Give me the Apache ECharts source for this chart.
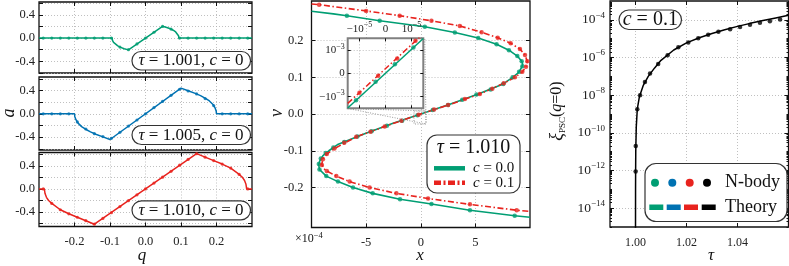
<!DOCTYPE html>
<html>
<head>
<meta charset="utf-8">
<script src="https://cdn.jsdelivr.net/npm/echarts@6/dist/echarts.min.js"></script>
<style>
html, body { margin: 0; padding: 0; background: #fff; }
#main { width: 789px; height: 266px; }
</style>
</head>
<body>
<div id="main"></div>
<script>
// ---------- left column: a(q) at three times ----------
const qDots = [-0.288, -0.264, -0.24, -0.216, -0.192, -0.168, -0.144, -0.12, -0.096, -0.072, -0.048, -0.024, 0,
  0.024, 0.048, 0.072, 0.096, 0.12, 0.144, 0.168, 0.192, 0.216, 0.24, 0.264, 0.288]
const aDots1001 = [0, 0, 0, 0, 0, 0, 0, 0, 0, -0.155, -0.2, -0.1, 0, 0.1, 0.2, 0.155, 0, 0, 0, 0, 0, 0, 0, 0, 0]
const aDots1005 = [0, 0, 0, 0, -0.14, -0.26, -0.34, -0.39, -0.42, -0.317, -0.211, -0.106, 0,
  0.106, 0.211, 0.317, 0.42, 0.39, 0.34, 0.26, 0.14, 0, 0, 0, 0]
const aDots1010 = [0, -0.25, -0.36, -0.43, -0.49, -0.55, -0.61, -0.51, -0.41, -0.305, -0.204, -0.102, 0,
  0.102, 0.204, 0.305, 0.41, 0.51, 0.61, 0.55, 0.49, 0.43, 0.36, 0.25, 0]

const qLine1001 = [-0.3, -0.094, -0.093, -0.09, -0.085, -0.078, -0.07, -0.06, -0.048,
  0.048, 0.06, 0.07, 0.078, 0.085, 0.09, 0.093, 0.094, 0.3]
const aLine1001 = [0, 0, -0.04, -0.075, -0.105, -0.135, -0.16, -0.183, -0.203,
  0.203, 0.183, 0.16, 0.135, 0.105, 0.075, 0.04, 0, 0]
const qLine1005 = [-0.3, -0.2, -0.199, -0.196, -0.19, -0.18, -0.17, -0.155, -0.14, -0.12, -0.1,
  0.1, 0.12, 0.14, 0.155, 0.17, 0.18, 0.19, 0.196, 0.199, 0.2, 0.3]
const aLine1005 = [0, 0, -0.05, -0.1, -0.16, -0.22, -0.26, -0.31, -0.35, -0.395, -0.44,
  0.44, 0.395, 0.35, 0.31, 0.26, 0.22, 0.16, 0.1, 0.05, 0, 0]
const qLine1010 = [-0.3, -0.285, -0.283, -0.279, -0.273, -0.264, -0.24, -0.216, -0.192, -0.168, -0.144,
  0.144, 0.168, 0.192, 0.216, 0.24, 0.264, 0.273, 0.279, 0.283, 0.285, 0.3]
const aLine1010 = [0, 0, -0.08, -0.145, -0.2, -0.25, -0.36, -0.43, -0.49, -0.55, -0.61,
  0.61, 0.55, 0.49, 0.43, 0.36, 0.25, 0.2, 0.145, 0.08, 0, 0]

// ---------- middle: phase space, x in units of 1e-4 ----------
const xLineC0 = [-10, -8, -6.76, -3.76, 0.37, 3.12, 5.26, 6.94, 8.07, 8.84, 9.24, 9.33, 9.25, 8.95, 8.41, 7.55, 5.2, 2.6, 0,
  -2.6, -5.2, -7.55, -8.41, -8.95, -9.25, -9.34, -9.27, -8.65, -7.58, -6.2, -4.4, -1.9, 0.98, 4.5, 8.6, 10]
const vLineC0 = [0.28, 0.273, 0.268, 0.254, 0.238, 0.222, 0.207, 0.19, 0.174, 0.158, 0.144, 0.136, 0.128, 0.113, 0.1, 0.082, 0.054, 0.026, 0,
  -0.026, -0.054, -0.082, -0.1, -0.113, -0.128, -0.138, -0.151, -0.169, -0.184, -0.2, -0.216, -0.232, -0.245, -0.262, -0.277, -0.281]
const xLineC01 = [-10, -9.3, -5, -1.93, 0.98, 3.58, 5.57, 7.04, 8.23, 9.08, 9.54, 9.75, 9.63, 9.3, 8.62, 7.6, 5.41, 2.5, 0,
  -2.6, -5.9, -7.9, -8.6, -8.96, -9.06, -8.9, -8.6, -7.73, -6.51, -4.68, -2.23, 0.67, 4.5, 8.78, 10]
const vLineC01 = [0.3, 0.298, 0.281, 0.268, 0.254, 0.24, 0.223, 0.208, 0.193, 0.177, 0.161, 0.144, 0.129, 0.115, 0.1, 0.084, 0.0545, 0.0245, 0.0002,
  -0.0265, -0.062, -0.094, -0.109, -0.123, -0.136, -0.148, -0.155, -0.169, -0.184, -0.2, -0.216, -0.23, -0.246, -0.262, -0.265]
const xDotsC0 = [-6.76, -3.76, 0.37, 3.12, 5.26, 6.94, 8.07, 8.84, 9.24, 9.3, 9.0, 8.41, 7.55, 6.4, 5.1, 3.8, 2.5, 1.1, -0.3,
  -1.7, -3.1, -4.5, -5.8, -7.0, -8.0, -8.7, -9.15, -9.33, -9.27, -8.65, -7.58, -6.2, -4.4, -1.9, 0.98, 4.5, 8.6]
const vDotsC0 = [0.268, 0.254, 0.238, 0.222, 0.207, 0.19, 0.174, 0.158, 0.144, 0.13, 0.115, 0.1, 0.082, 0.067, 0.053, 0.039, 0.025, 0.011, -0.003,
  -0.018, -0.032, -0.047, -0.061, -0.076, -0.091, -0.106, -0.121, -0.136, -0.151, -0.169, -0.184, -0.2, -0.216, -0.232, -0.245, -0.262, -0.277]
const xDotsC01 = [-9.3, -5, -1.93, 0.98, 3.58, 5.57, 7.04, 8.23, 9.08, 9.54, 9.75, 9.63, 9.3, 8.62, 7.6, 6.55, 5.41, 4.04, 2.5, 1.22,
  -0.2, -1.77, -3.3, -4.6, -5.9, -7.0, -7.9, -8.6, -8.96, -9.05, -8.6, -7.73, -6.51, -4.68, -2.23, 0.67, 4.5, 8.78]
const vDotsC01 = [0.298, 0.281, 0.268, 0.254, 0.24, 0.223, 0.208, 0.193, 0.177, 0.161, 0.144, 0.129, 0.115, 0.1, 0.084, 0.069, 0.0545, 0.041, 0.0245, 0.0125,
  -0.002, -0.018, -0.034, -0.048, -0.062, -0.078, -0.094, -0.109, -0.123, -0.139, -0.155, -0.169, -0.184, -0.2, -0.216, -0.23, -0.246, -0.262]

// inset around the origin
const xInsetLine = [-0.145, 0.145]
const vInsetLineC0 = [-0.00149, 0.00149]
const vInsetLineC01 = [-0.00129, 0.00169]
const xInsetDotsC0 = [-0.113, -0.038, 0.036, 0.107]
const vInsetDotsC0 = [-0.00116, -0.00036, 0.00039, 0.00111]
const xInsetDotsC01 = [-0.1, -0.028, 0.045, 0.115]
const vInsetDotsC01 = [-0.00083, -0.00011, 0.00063, 0.00139]

// ---------- right: xi_PSC(q=0) vs tau ----------
const tauLine = [1.0, 1.00002, 1.00005, 1.0001, 1.0003, 1.0007, 1.0015, 1.003, 1.005, 1.0075, 1.01, 1.015, 1.02,
  1.025, 1.03, 1.035, 1.04, 1.045, 1.05, 1.055, 1.06]
const xiLine = [1e-16, 1e-13, 7.9e-13, 1e-11, 2e-10, 1.8e-9, 7.9e-9, 3.2e-8, 1e-7, 2.8e-7, 7.1e-7, 2.5e-6, 6e-6,
  1.12e-5, 1.9e-5, 3e-5, 4.5e-5, 6.5e-5, 9.1e-5, 1.26e-4, 1.74e-4]
const tauDots = [1.00005, 1.0001, 1.0007, 1.0018, 1.0037, 1.0057, 1.0089, 1.0126, 1.0168, 1.0207, 1.0246, 1.0285,
  1.0325, 1.0371, 1.041, 1.0449, 1.0488, 1.0527, 1.0567]
const xiDots = [8.9e-13, 2e-11, 1.8e-9, 1e-8, 5e-8, 1.4e-7, 4.5e-7, 1.3e-6, 3.5e-6, 6.3e-6, 1.05e-5, 1.6e-5,
  2.3e-5, 3.2e-5, 4.2e-5, 5.4e-5, 6.9e-5, 8.5e-5, 1.05e-4]

// ---------- ticks ----------
const qTicks = [-0.2, -0.1, 0, 0.1, 0.2]
const aTicks = [-0.6, -0.4, -0.2, 0, 0.2, 0.4, 0.6]
const aLabels = [-0.4, 0, 0.4]
const xTicks = [-5, 0, 5]
const vTicks = [-0.2, -0.1, 0, 0.1, 0.2]
const insetXTicks = [-0.1, 0, 0.1]
const insetVTicks = [-0.001, 0, 0.001]
const tauTicks = [1.0, 1.02, 1.04]
const xiTicks = [1e-14, 1e-12, 1e-10, 1e-8, 1e-6, 1e-4]

const GREEN = '#009E73'
const BLUE = '#0072B2'
const RED = '#E8231E'
const SERIF = 'Liberation Serif'
const INK = '#222'

// log minor ticks (every k*10^n that is not a labelled decade)
const xiMinor = []
for (let e = -15; e <= -4; e++) {
  for (let k = 1; k <= 9; k++) {
    if (k === 1 && e % 2 === 0) continue
    xiMinor.push(k * Math.pow(10, e))
  }
}

const zip = (a, b) => a.map((v, i) => [v, b[i]])

const supRich = (size) => ({ s: { fontSize: size, verticalAlign: 'top', lineHeight: size, fontFamily: SERIF, color: INK } })

function frameAxis (gridIndex, position, min, max, ticks, opt) {
  const o = opt || {}
  const axis = {
    type: o.type || 'value',
    gridIndex: gridIndex,
    position: position,
    min: min,
    max: max,
    z: o.z || 0,
    axisLine: { show: false, onZero: false },
    axisTick: { show: true, inside: true, length: o.tickLen || 4, customValues: ticks, lineStyle: { color: '#111', width: 1 } },
    axisLabel: { show: false },
    splitLine: o.grid ? { show: true, lineStyle: { color: '#b0b0b0', width: 0.8, type: [1, 2] } } : { show: false }
  }
  if (o.type === 'log') axis.logBase = 10
  if (o.labels) {
    axis.axisLabel = {
      show: true,
      customValues: o.labels,
      formatter: o.formatter,
      margin: o.margin,
      fontFamily: SERIF,
      fontSize: o.fontSize || 12.5,
      color: INK,
      lineHeight: o.lineHeight,
      rich: o.rich
    }
  }
  return axis
}

const fix1 = v => v.toFixed(1)
const insetXFmt = v => Math.abs(v) < 1e-9 ? '0' : (v < 0 ? '\u221210{s|\u22125}' : '10{s|\u22125}')
const insetVFmt = v => Math.abs(v) < 1e-9 ? '0' : (v < 0 ? '\u221210{s|\u22123}' : '10{s|\u22123}')
const xiFmt = v => '10{s|\u2212' + Math.round(-Math.log10(v)) + '}'

const frame = { show: true, borderColor: '#111', borderWidth: 1.3, outerBoundsMode: 'none', containLabel: false }

function lineSeries (xi, yi, data, color, width, type, z) {
  return {
    type: 'line', xAxisIndex: xi, yAxisIndex: yi, data: data,
    symbol: 'none', showSymbol: false, z: z || 2,
    lineStyle: { color: color, width: width, type: type || 'solid' },
    itemStyle: { color: color }
  }
}
function dotSeries (xi, yi, data, color, size, z) {
  return {
    type: 'scatter', xAxisIndex: xi, yAxisIndex: yi, data: data,
    symbol: 'circle', symbolSize: size, z: z || 3,
    itemStyle: { color: color }
  }
}

function txt (x, y, text, size, opt) {
  const o = opt || {}
  return {
    type: 'text', x: x, y: y, z: 101, rotation: o.rotation || 0,
    style: {
      text: text,
      font: (o.italic ? 'italic ' : '') + size + 'px "' + SERIF + '"',
      fill: '#111',
      textAlign: o.align || 'center',
      textVerticalAlign: 'middle',
      lineHeight: o.lineHeight,
      rich: o.rich
    }
  }
}
function box (x, y, w, h, r) {
  return { type: 'rect', z: 100, shape: { x: x, y: y, width: w, height: h, r: r }, style: { fill: '#fff', stroke: '#333', lineWidth: 1.2 } }
}
const italicRich = size => ({ i: { fontStyle: 'italic', fontSize: size, fontFamily: SERIF, color: '#111' } })

const chart = echarts.init(document.getElementById('main'))

chart.setOption({
  animation: false,
  backgroundColor: '#fff',
  grid: [
    Object.assign({ left: 39, top: 2, width: 213, height: 71 }, frame),
    Object.assign({ left: 39, top: 77, width: 213, height: 73 }, frame),
    Object.assign({ left: 39, top: 152.5, width: 213, height: 74 }, frame),
    Object.assign({ left: 311.5, top: 1, width: 218.5, height: 226.5 }, frame),
    Object.assign({}, frame, { left: 347.7, top: 38.3, width: 75.6, height: 70, z: 10, backgroundColor: '#fff', borderColor: '#808080', borderWidth: 2 }),
    Object.assign({ left: 610, top: 1, width: 178.5, height: 226 }, frame)
  ],
  xAxis: [
    frameAxis(0, 'bottom', -0.3, 0.3, qTicks, { grid: true }),
    frameAxis(0, 'top', -0.3, 0.3, qTicks),
    frameAxis(1, 'bottom', -0.3, 0.3, qTicks, { grid: true }),
    frameAxis(1, 'top', -0.3, 0.3, qTicks),
    frameAxis(2, 'bottom', -0.3, 0.3, qTicks, { grid: true, labels: qTicks, formatter: fix1, margin: 9 }),
    frameAxis(2, 'top', -0.3, 0.3, qTicks),
    frameAxis(3, 'bottom', -10, 10, xTicks, { grid: true, labels: xTicks, formatter: v => String(v), margin: 9 }),
    frameAxis(3, 'top', -10, 10, xTicks),
    frameAxis(4, 'top', -0.145, 0.145, insetXTicks, { grid: true, labels: insetXTicks, formatter: insetXFmt, margin: 2, fontSize: 11, rich: supRich(8), lineHeight: 15, z: 12, tickLen: 3 }),
    frameAxis(4, 'bottom', -0.145, 0.145, insetXTicks, { z: 12, tickLen: 3 }),
    frameAxis(5, 'bottom', 0.99, 1.06, tauTicks, { grid: true, labels: tauTicks, formatter: v => v.toFixed(2), margin: 10, fontSize: 12 }),
    frameAxis(5, 'top', 0.99, 1.06, tauTicks)
  ],
  yAxis: [
    frameAxis(0, 'left', -0.6, 0.62, aTicks, { grid: true, labels: aLabels, formatter: fix1, margin: 4 }),
    frameAxis(0, 'right', -0.6, 0.62, aTicks),
    frameAxis(1, 'left', -0.62, 0.63, aTicks, { grid: true, labels: aLabels, formatter: fix1, margin: 4 }),
    frameAxis(1, 'right', -0.62, 0.63, aTicks),
    frameAxis(2, 'left', -0.65, 0.63, aTicks, { grid: true, labels: aLabels, formatter: fix1, margin: 4 }),
    frameAxis(2, 'right', -0.65, 0.63, aTicks),
    frameAxis(3, 'left', -0.309, 0.308, vTicks, { grid: true, labels: vTicks, formatter: fix1, margin: 8 }),
    frameAxis(3, 'right', -0.309, 0.308, vTicks),
    frameAxis(4, 'left', -0.0015, 0.0015, insetVTicks, { grid: true, labels: insetVTicks, formatter: insetVFmt, margin: 3, fontSize: 11, rich: supRich(8), lineHeight: 15, z: 12, tickLen: 3 }),
    frameAxis(4, 'right', -0.0015, 0.0015, insetVTicks, { z: 12, tickLen: 3 }),
    frameAxis(5, 'left', 1e-15, 1e-3, xiTicks, { type: 'log', grid: true, labels: xiTicks, formatter: xiFmt, margin: 5, fontSize: 13.5, rich: supRich(9), lineHeight: 18 }),
    frameAxis(5, 'left', 1e-15, 1e-3, xiMinor, { type: 'log', tickLen: 2 }),
    frameAxis(5, 'right', 1e-15, 1e-3, xiTicks, { type: 'log' }),
    frameAxis(5, 'right', 1e-15, 1e-3, xiMinor, { type: 'log', tickLen: 2 })
  ],
  series: [
    // left column
    lineSeries(0, 0, zip(qLine1001, aLine1001), GREEN, 1.5),
    dotSeries(0, 0, zip(qDots, aDots1001), GREEN, 3.2),
    lineSeries(2, 2, zip(qLine1005, aLine1005), BLUE, 1.5),
    dotSeries(2, 2, zip(qDots, aDots1005), BLUE, 3.2),
    lineSeries(4, 4, zip(qLine1010, aLine1010), RED, 1.5),
    dotSeries(4, 4, zip(qDots, aDots1010), RED, 3.2),
    // phase space
    lineSeries(6, 6, zip(xLineC0, vLineC0), GREEN, 1.6),
    lineSeries(6, 6, zip(xLineC01, vLineC01), RED, 1.6, [6, 2.5, 1.5, 2.5]),
    dotSeries(6, 6, zip(xDotsC0, vDotsC0), GREEN, 4.5),
    dotSeries(6, 6, zip(xDotsC01, vDotsC01), RED, 4.5),
    // inset
    lineSeries(8, 8, zip(xInsetLine, vInsetLineC0), GREEN, 1.5, 'solid', 13),
    lineSeries(8, 8, zip(xInsetLine, vInsetLineC01), RED, 1.5, [6, 2.5, 1.5, 2.5], 13),
    dotSeries(8, 8, zip(xInsetDotsC0, vInsetDotsC0), GREEN, 4.5, 14),
    dotSeries(8, 8, zip(xInsetDotsC01, vInsetDotsC01), RED, 4.5, 14),
    // xi(tau)
    lineSeries(10, 10, zip(tauLine, xiLine), '#000', 1.5),
    dotSeries(10, 10, zip(tauDots, xiDots), '#000', 4.5)
  ],
  graphic: {
    elements: [
      // axis titles
      txt(9, 113, 'a', 18, { italic: true, rotation: Math.PI / 2 }),
      txt(142, 256, 'q', 17, { italic: true }),
      txt(277, 113, 'v', 18, { italic: true, rotation: Math.PI / 2 }),
      txt(420, 256, 'x', 17, { italic: true }),
      txt(711, 256, '\u03c4', 17, { italic: true }),
      txt(295, 239, '\u00d710{s|\u22124}', 12, { align: 'left', lineHeight: 16, rich: supRich(8.5) }),
      txt(557, 111, '{x|\u03be}{b|PSC}{n|(}{i|q}{n|=0)}', 16, {
        rotation: Math.PI / 2,
        lineHeight: 20,
        rich: {
          x: { fontSize: 18, fontStyle: 'italic', fontFamily: SERIF, color: '#111' },
          b: { fontSize: 9, verticalAlign: 'bottom', lineHeight: 9, fontFamily: SERIF, color: '#111' },
          n: { fontSize: 16, fontFamily: SERIF, color: '#111' },
          i: { fontSize: 16, fontStyle: 'italic', fontFamily: SERIF, color: '#111' }
        }
      }),
      // labels in the left column
      box(132, 51.5, 118.5, 18.5, 9),
      txt(191, 61, '{i|\u03c4} = 1.001, {i|c} = 0', 17, { rich: italicRich(17) }),
      box(132, 125.5, 118.5, 19, 9.5),
      txt(191, 135.2, '{i|\u03c4} = 1.005, {i|c} = 0', 17, { rich: italicRich(17) }),
      box(132, 200.8, 118.5, 19, 9.5),
      txt(191, 210.5, '{i|\u03c4} = 1.010, {i|c} = 0', 17, { rich: italicRich(17) }),
      // inset connectors
      { type: 'rect', z: 5, shape: { x: 414, y: 111, width: 12, height: 13 }, style: { fill: 'none', stroke: '#999', lineWidth: 1, lineDash: [1, 1.5] } },
      { type: 'line', z: 5, shape: { x1: 348, y1: 108.5, x2: 426, y2: 111 }, style: { stroke: '#999', lineWidth: 1, lineDash: [1, 1.5] } },
      { type: 'line', z: 5, shape: { x1: 348, y1: 108.5, x2: 426, y2: 124 }, style: { stroke: '#999', lineWidth: 1, lineDash: [1, 1.5] } },
      { type: 'line', z: 5, shape: { x1: 424.8, y1: 39, x2: 426, y2: 124 }, style: { stroke: '#999', lineWidth: 1, lineDash: [1, 1.5] } },
      // middle legend
      box(427, 135, 93, 58, 10),
      txt(473.5, 148, '{i|\u03c4} = 1.010', 20, { rich: italicRich(20) }),
      { type: 'line', z: 101, shape: { x1: 434, y1: 168.3, x2: 465, y2: 168.3 }, style: { stroke: GREEN, lineWidth: 4.5 } },
      { type: 'line', z: 101, shape: { x1: 434, y1: 182.7, x2: 465, y2: 182.7 }, style: { stroke: RED, lineWidth: 4.5, lineDash: [7, 2.5, 2, 2.5] } },
      txt(473, 168.3, '{i|c} = 0.0', 15, { align: 'left', rich: italicRich(15) }),
      txt(473, 182.7, '{i|c} = 0.1', 15, { align: 'left', rich: italicRich(15) }),
      // right panel labels
      box(619, 10, 62.5, 19.5, 9.75),
      txt(650.3, 20, '{i|c} = 0.1', 20, { rich: italicRich(20) }),
      box(645, 163.5, 142, 58, 11),
      { type: 'circle', z: 101, shape: { cx: 655, cy: 182.7, r: 4 }, style: { fill: GREEN } },
      { type: 'circle', z: 101, shape: { cx: 672.3, cy: 182.7, r: 4 }, style: { fill: BLUE } },
      { type: 'circle', z: 101, shape: { cx: 689.7, cy: 182.7, r: 4 }, style: { fill: RED } },
      { type: 'circle', z: 101, shape: { cx: 707, cy: 182.7, r: 4 }, style: { fill: '#000' } },
      { type: 'rect', z: 101, shape: { x: 649.3, y: 204.5, width: 14, height: 5.5 }, style: { fill: GREEN } },
      { type: 'rect', z: 101, shape: { x: 666.7, y: 204.5, width: 14, height: 5.5 }, style: { fill: BLUE } },
      { type: 'rect', z: 101, shape: { x: 684, y: 204.5, width: 14, height: 5.5 }, style: { fill: RED } },
      { type: 'rect', z: 101, shape: { x: 701.7, y: 204.5, width: 14, height: 5.5 }, style: { fill: '#000' } },
      txt(725, 182.5, 'N-body', 18, { align: 'left' }),
      txt(725, 207.5, 'Theory', 18, { align: 'left' })
    ]
  }
})
</script>
</body>
</html>
